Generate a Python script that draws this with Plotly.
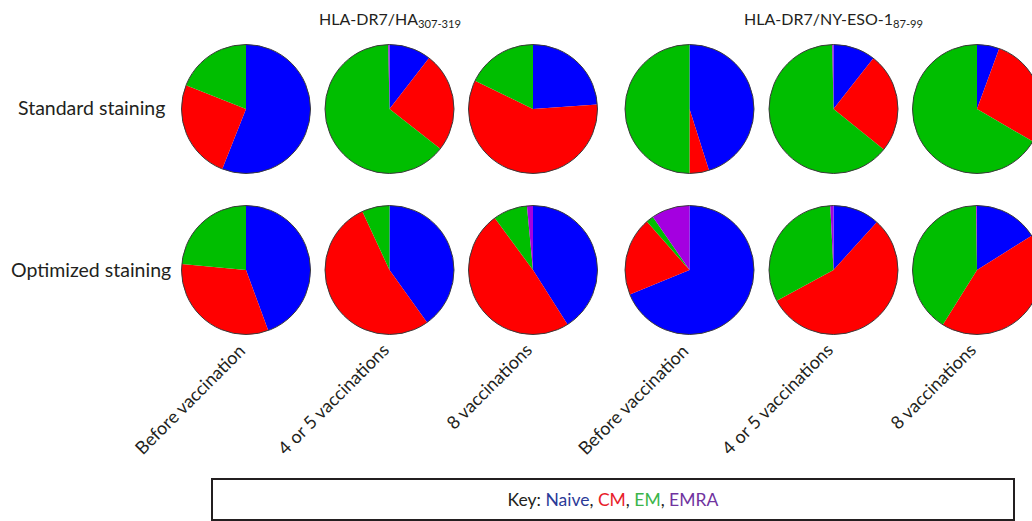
import plotly.graph_objects as go

# Memory T-cell subset composition (% of tetramer+ CD4 cells)
populations = ["Naive", "CM", "EM", "EMRA"]
subset_colors = ["#0000FF", "#FF0000", "#00BE00", "#A400E0"]
key_colors = ["#2B3A97", "#E8202A", "#3BB54A", "#7033A0"]

timepoints = ["Before vaccination", "4 or 5 vaccinations", "8 vaccinations"]
epitopes = ["HLA-DR7/HA<sub>307-319</sub>", "HLA-DR7/NY-ESO-1<sub>87-99</sub>"]
stainings = ["Standard staining", "Optimized staining"]

# rows: timepoints; columns: Naive, CM, EM, EMRA
standard_ha = [
    [56.0, 25.0, 19.0, 0.0],
    [10.5, 25.1, 64.1, 0.3],
    [23.9, 58.3, 17.8, 0.0],
]
standard_nyeso = [
    [45.1, 4.9, 50.0, 0.0],
    [10.6, 25.2, 63.9, 0.3],
    [5.6, 27.8, 66.6, 0.0],
]
optimized_ha = [
    [44.4, 32.1, 23.5, 0.0],
    [40.1, 53.0, 6.9, 0.0],
    [41.0, 48.9, 8.6, 1.5],
]
optimized_nyeso = [
    [68.8, 19.7, 1.9, 9.6],
    [11.7, 55.4, 32.1, 0.8],
    [16.1, 42.8, 40.9, 0.2],
]

panels = [
    [standard_ha, standard_nyeso],
    [optimized_ha, optimized_nyeso],
]

# canvas geometry (pixels); the canvas is a bit wider than the view so
# the last column is cut at the right edge
W, H = 1100, 521
col_x = [246, 389.5, 533, 689.5, 833.5, 977]
row_y = [109, 270]
R = 64.5
FONT = "Lato, 'Open Sans', sans-serif"
INK = "#231F20"


def px_x(x):
    return x / W


def px_y(y):
    return 1 - y / H


fig = go.Figure()

for r, row in enumerate(panels):
    for g, group in enumerate(row):
        for t, vals in enumerate(group):
            cx = col_x[g * 3 + t]
            cy = row_y[r]
            dom = dict(
                x=[px_x(cx - R), px_x(cx + R)],
                y=[px_y(cy + R), px_y(cy - R)],
            )
            fig.add_trace(go.Pie(
                labels=populations,
                values=vals,
                domain=dom,
                sort=False,
                direction="clockwise",
                rotation=0,
                textinfo="none",
                hoverinfo="label+percent",
                marker=dict(colors=subset_colors, line=dict(width=0)),
                showlegend=False,
            ))
            # thin outline around the whole pie
            fig.add_trace(go.Pie(
                labels=["all"],
                values=[1],
                domain=dom,
                textinfo="none",
                hoverinfo="skip",
                marker=dict(colors=["rgba(0,0,0,0)"],
                            line=dict(color="#3a3a3a", width=1)),
                showlegend=False,
            ))

annotations = []

# epitope headers over the middle pie of each group
for g, name in enumerate(epitopes):
    annotations.append(dict(
        x=px_x(col_x[g * 3 + 1]), y=px_y(20), xref="paper", yref="paper",
        text=name, showarrow=False, xanchor="center", yanchor="middle",
        font=dict(family=FONT, size=16, color=INK),
    ))

# staining row labels
for r, name in enumerate(stainings):
    annotations.append(dict(
        x=px_x(91), y=px_y(row_y[r] - 1), xref="paper", yref="paper",
        text=name, showarrow=False, xanchor="center", yanchor="middle",
        font=dict(family=FONT, size=19.5, color=INK),
    ))

# slanted timepoint labels under each column
for i, cx in enumerate(col_x):
    annotations.append(dict(
        x=px_x(cx + 6), y=px_y(336), xref="paper", yref="paper",
        text=timepoints[i % 3], showarrow=False, textangle=-45,
        xanchor="right", yanchor="top",
        font=dict(family=FONT, size=18, color=INK),
    ))

# colour key
key_text = "Key: " + ", ".join(
    f"<span style='color:{c}'>{p}</span>" for p, c in zip(populations, key_colors)
)
annotations.append(dict(
    x=px_x(613), y=px_y(499), xref="paper", yref="paper",
    text=key_text, showarrow=False, xanchor="center", yanchor="middle",
    width=798, height=37, bordercolor="#231F20", borderwidth=2,
    bgcolor="white", align="center",
    font=dict(family=FONT, size=17.5, color=INK),
))

fig.update_layout(
    width=W, height=H,
    margin=dict(l=0, r=0, t=0, b=0),
    paper_bgcolor="white",
    plot_bgcolor="white",
    annotations=annotations,
)

fig.write_html(
    "out.html",
    post_script=(
        "document.documentElement.style.overflow='hidden';"
        "document.body.style.overflow='hidden';"
        "document.body.style.margin='0';"
    ),
)
